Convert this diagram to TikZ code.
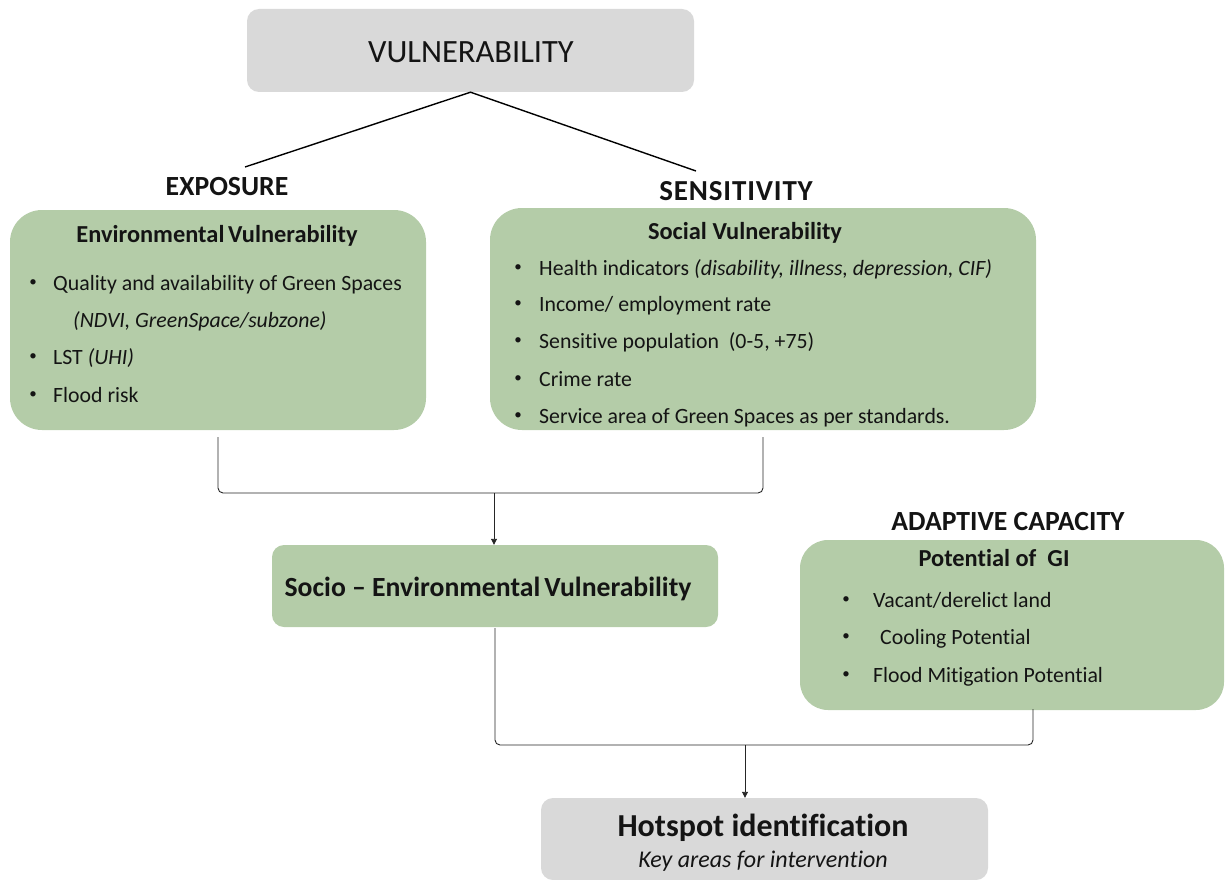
\documentclass[tikz,border=0pt]{standalone}
\usepackage{fontspec}
\setmainfont{Carlito}[Ligatures=CommonOff]
\newfontfamily\spacedfont{Carlito}[LetterSpace=3,Ligatures=CommonOff]
\usetikzlibrary{arrows.meta}
\definecolor{boxgray}{RGB}{217,217,217}
\definecolor{boxgreen}{RGB}{180,204,168}
\definecolor{txt}{RGB}{20,20,20}
\begin{document}
\begin{tikzpicture}[x=1pt,y=-1pt,
  box/.style={draw=none,rounded corners=#1,inner sep=0pt},
  graybox/.style={box=12pt,fill=boxgray},
  greenbox/.style={box=#1,fill=boxgreen},
  txtnode/.style={inner sep=0pt,text=txt,anchor=base},
  item/.style={txtnode,anchor=base west,font=\fontsize{21.8}{26}\selectfont},
  bul/.style={inner sep=0pt,text=txt,anchor=center,font=\fontsize{15}{18}\selectfont},
  heading/.style={txtnode,font=\fontsize{27.7}{32}\selectfont\bfseries},
  title/.style={txtnode,font=\fontsize{24.4}{29}\selectfont\bfseries},
  link/.style={draw=black,line width=1.4pt},
  bracket/.style={draw=black!85,line width=0.9pt,rounded corners=5pt},
  arr/.style={draw=black!85,line width=0.9pt,-{Triangle[length=6pt,width=6pt]}}
]
\useasboundingbox (0,0) rectangle (1226,880);

% boxes
\node[graybox,minimum width=447pt,minimum height=83pt] (vul) at (470.5,50.5) {};
\node[greenbox=32pt,minimum width=416pt,minimum height=220pt] (env) at (218,320) {};
\node[greenbox=32pt,minimum width=546pt,minimum height=222pt] (soc) at (763,319) {};
\node[greenbox=12pt,minimum width=446pt,minimum height=82pt] (socio) at (495,586) {};
\node[greenbox=28pt,minimum width=424pt,minimum height=170pt] (pot) at (1012,625) {};
\node[graybox,minimum width=447pt,minimum height=82pt] (hot) at (764.5,839) {};

% texts
\node[txtnode,font=\fontsize{32.5}{38}\selectfont] (vult) at (471,63) {VULNERABILITY};
\node[heading] (expo) at (227,195) {EXPOSURE};
\node[txtnode,font=\fontsize{29}{34}\selectfont\spacedfont\bfseries] (sens) at (736,200) {SENSITIVITY};
\node[heading] (adap) at (1008,530) {ADAPTIVE CAPACITY};

\node[title] (envt) at (217,242) {Environmental\hspace{0.15em}Vulnerability};
\node[bul] at (33,283) {•};
\node[item] at (53,290.5) {Quality and availability of Green Spaces};
\node[item] at (73,327.5) {\itshape (NDVI, GreenSpace/subzone)};
\node[bul] at (33,357) {•};
\node[item] at (53,364.5) {LST \itshape (UHI)};
\node[bul] at (33,395) {•};
\node[item] at (53,402) {Flood risk};

\node[title] (soct) at (745,239) {Social Vulnerability};
\node[bul] at (518,268) {•};
\node[item] at (539,275.5) {Health indicators \itshape (disability, illness, depression, CIF)};
\node[bul] at (518,304) {•};
\node[item] at (539,311.5) {Income/ employment rate};
\node[bul] at (518,341) {•};
\node[item] at (539,348.5) {Sensitive population\ \ (0-5, +75)};
\node[bul] at (518,379) {•};
\node[item] at (539,386.5) {Crime rate};
\node[bul] at (518,416) {•};
\node[item] at (539,423.5) {Service area of Green Spaces as per standards.};

\node[txtnode,font=\fontsize{27.7}{33}\selectfont\bfseries] (sociot) at (488,596) {Socio – Environmental\hspace{0.15em}Vulnerability};

\node[title] (pott) at (994,566) {Potential of\ \ GI};
\node[bul] at (846,600) {•};
\node[item] at (873,607.5) {Vacant/derelict land};
\node[bul] at (846,637) {•};
\node[item] at (880,644.5) {Cooling Potential};
\node[bul] at (846,675) {•};
\node[item] at (873,682.5) {Flood Mitigation Potential};

\node[txtnode,font=\fontsize{32}{38}\selectfont\bfseries] (hott) at (763,836) {Hotspot identification};
\node[txtnode,font=\fontsize{24}{29}\selectfont\itshape] (hots) at (763,867) {Key areas for intervention};

% connectors
\coordinate (le) at (245,167);
\coordinate (re) at (696,171);
\draw[link] (le) -- (vul.south) -- (re);

\coordinate (j1) at (494,493);
\draw[bracket] ([yshift=-7pt]env.south) |- (j1) -| ([yshift=-7pt]soc.south);
\draw[arr] (j1) -- (socio.north -| j1);

\coordinate (j2) at (745,745);
\draw[bracket] ([yshift=-1pt]socio.south) |- (j2) -| ([xshift=21pt,yshift=1pt]pot.south);
\draw[arr] (j2) -- (hot.north -| j2);
\end{tikzpicture}
\end{document}
